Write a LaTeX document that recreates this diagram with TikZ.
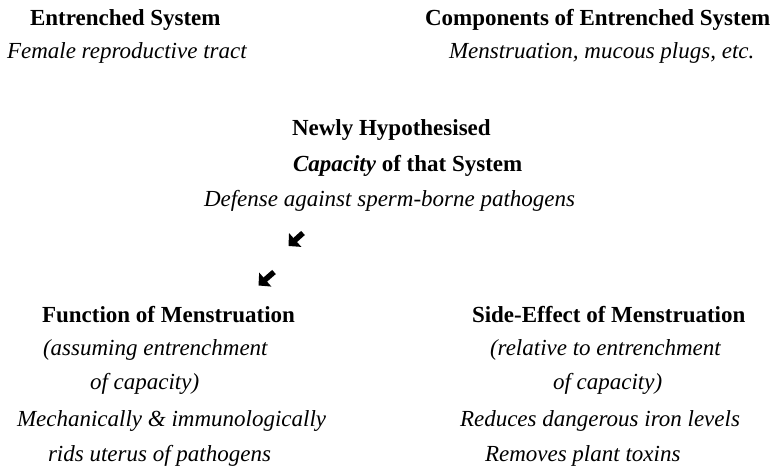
\documentclass[tikz,border=0pt]{standalone}
\usepackage{fontspec}
\setmainfont{Liberation Serif}
\usetikzlibrary{arrows.meta}
\tikzset{
  txt/.style={anchor=base west, inner sep=0pt, outer sep=0pt, font=\fontsize{23}{28}\selectfont},
  hd/.style={txt, font=\fontsize{23}{28}\selectfont\bfseries},
  it/.style={txt, font=\fontsize{23}{28}\selectfont\itshape},
  fatarrow/.style={line width=5.5pt, -{Triangle[length=9pt,width=18pt]}}
}
\begin{document}
\begin{tikzpicture}[x=1pt,y=1pt]
\useasboundingbox (0,0) rectangle (776,-470);
% top row
\node[hd] (es) at (30,-26) {Entrenched System};
\node[it] (frt) at (7,-59) {Female reproductive tract};
\node[hd] (ces) at (425,-26) {Components of Entrenched System};
\node[it] (mmp) at (449,-59) {Menstruation, mucous plugs, etc.};
% middle
\node[hd] (nh) at (292,-136) {Newly Hypothesised};
\node[hd] (cap) at (293,-172) {\textit{Capacity} of that System};
\node[it] (def) at (204,-207) {Defense against sperm-borne pathogens};
% arrows
\coordinate (a1s) at (303,-233);
\coordinate (a1e) at (288.5,-246);
\coordinate (a2s) at (274,-272);
\coordinate (a2e) at (258.5,-285.5);
\draw[fatarrow] (a1s) -- (a1e);
\draw[fatarrow] (a2s) -- (a2e);
% left column
\node[hd] (fm) at (42,-322) {Function of Menstruation};
\node[it] (l1) at (43,-355) {(assuming entrenchment};
\node[it] (l2) at (90,-389) {of capacity)};
\node[it] (l3) at (17,-426) {Mechanically \& immunologically};
\node[it] (l4) at (48,-461) {rids uterus of pathogens};
% right column
\node[hd] (se) at (472,-322) {Side-Effect of Menstruation};
\node[it] (r1) at (490,-355) {(relative to entrenchment};
\node[it] (r2) at (553,-389) {of capacity)};
\node[it] (r3) at (460,-426) {Reduces dangerous iron levels};
\node[it] (r4) at (485,-461) {Removes plant toxins};
\end{tikzpicture}
\end{document}
